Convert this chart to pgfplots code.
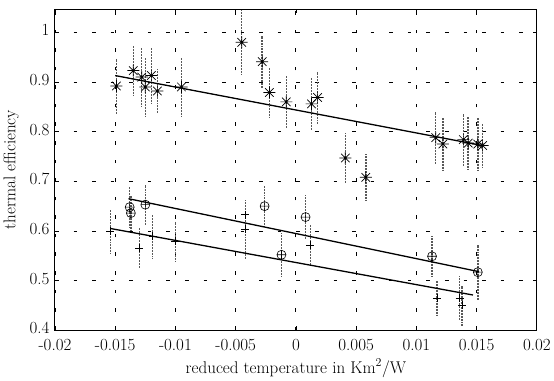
\documentclass[border=0pt]{standalone}
\usepackage{pgfplots}
\pgfplotsset{compat=1.18}
\pgfdeclareplotmark{mstar}{%
  \pgfpathmoveto{\pgfqpoint{-\pgfplotmarksize}{0pt}}\pgfpathlineto{\pgfqpoint{\pgfplotmarksize}{0pt}}%
  \pgfpathmoveto{\pgfqpoint{0pt}{-\pgfplotmarksize}}\pgfpathlineto{\pgfqpoint{0pt}{\pgfplotmarksize}}%
  \pgfpathmoveto{\pgfqpoint{-0.707\pgfplotmarksize}{-0.707\pgfplotmarksize}}\pgfpathlineto{\pgfqpoint{0.707\pgfplotmarksize}{0.707\pgfplotmarksize}}%
  \pgfpathmoveto{\pgfqpoint{-0.707\pgfplotmarksize}{0.707\pgfplotmarksize}}\pgfpathlineto{\pgfqpoint{0.707\pgfplotmarksize}{-0.707\pgfplotmarksize}}%
  \pgfusepathqstroke}
\begin{document}
\begin{tikzpicture}
\begin{axis}[
  scale only axis, width=480bp, height=320bp,
  xmin=-0.02, xmax=0.02, ymin=0.4, ymax=1.047,
  scaled x ticks=false, scaled y ticks=false,
  xtick={-0.02,-0.015,-0.01,-0.005,0,0.005,0.01,0.015,0.02},
  xticklabels={-0.02,-0.015,-0.01,-0.005,0,0.005,0.01,0.015,0.02},
  ytick={0.4,0.5,0.6,0.7,0.8,0.9,1},
  yticklabels={0.4,0.5,0.6,0.7,0.8,0.9,1},
  grid=major,
  major grid style={black, line width=0.9pt, dash pattern=on 3.5bp off 15bp},
  axis line style={line width=1pt},
  tick style={black, line width=0.8pt},
  major tick length=4bp,
  tick align=inside,
  ticklabel style={font=\fontsize{17}{19}\selectfont},
  xticklabel style={yshift=-5bp},
  yticklabel style={xshift=-2bp, yshift=2bp},
  label style={font=\fontsize{17}{19}\selectfont},
  xlabel={reduced temperature in Km$^2$/W},
  ylabel={thermal efficiency},
  xlabel style={yshift=-2bp},
  ylabel style={yshift=4bp},
  eb/.style={error bars/.cd, y dir=both, y explicit, error mark=none,
    error bar style={line width=1.5pt, black!65, dash pattern=on 0.6bp off 0.9bp}},
]
% stars
\addplot[only marks, mark=mstar, mark size=6bp, mark options={line width=0.7pt, black}, eb]
coordinates {
(-0.0149,0.892) +- (0,0.055)
(-0.0135,0.923) +- (0,0.050)
(-0.0128,0.910) +- (0,0.060)
(-0.0125,0.890) +- (0,0.060)
(-0.0120,0.913) +- (0,0.055)
(-0.0115,0.882) +- (0,0.045)
(-0.0095,0.890) +- (0,0.060)
(-0.0045,0.980) +- (0,0.065)
(-0.0028,0.941) +- (0,0.052)
(-0.0022,0.879) +- (0,0.050)
(-0.0008,0.860) +- (0,0.052)
(0.0013,0.856) +- (0,0.052)
(0.0018,0.869) +- (0,0.052)
(0.0041,0.747) +- (0,0.050)
(0.0058,0.708) +- (0,0.047)
(0.0116,0.788) +- (0,0.052)
(0.0122,0.775) +- (0,0.052)
(0.0139,0.784) +- (0,0.052)
(0.0143,0.777) +- (0,0.052)
(0.0151,0.775) +- (0,0.052)
(0.0155,0.772) +- (0,0.045)
};
% circles
\addplot[only marks, mark=oplus, mark size=4.5bp, mark options={line width=0.6pt, black}, eb]
coordinates {
(-0.0138,0.648) +- (0,0.040)
(-0.0137,0.636) +- (0,0.035)
(-0.0125,0.653) +- (0,0.040)
(-0.0026,0.650) +- (0,0.040)
(0.0008,0.628) +- (0,0.045)
(-0.0012,0.552) +- (0,0.045)
(0.0113,0.549) +- (0,0.040)
(0.0151,0.517) +- (0,0.055)
};
% pluses
\addplot[only marks, mark=+, mark size=4bp, mark options={line width=0.6pt, black}, eb]
coordinates {
(-0.0154,0.599) +- (0,0.045)
(-0.0130,0.566) +- (0,0.040)
(-0.0119,0.589) +- (0,0.045)
(-0.0100,0.579) +- (0,0.040)
(-0.0042,0.603) +- (0,0.060)
(-0.0042,0.633) +- (0,0.000)
(0.0012,0.572) +- (0,0.040)
(0.0117,0.465) +- (0,0.035)
(0.0136,0.465) +- (0,0.045)
(0.0138,0.450) +- (0,0.040)
};
% fitted lines
\addplot[black, line width=1.3pt] coordinates {(-0.0150,0.913) (0.0155,0.772)};
\addplot[black, line width=1.3pt] coordinates {(-0.0139,0.665) (0.0152,0.518)};
\addplot[black, line width=1.3pt] coordinates {(-0.0154,0.605) (0.0147,0.471)};
\end{axis}
\path (current axis.north) ++(0,9bp);
\end{tikzpicture}
\end{document}
